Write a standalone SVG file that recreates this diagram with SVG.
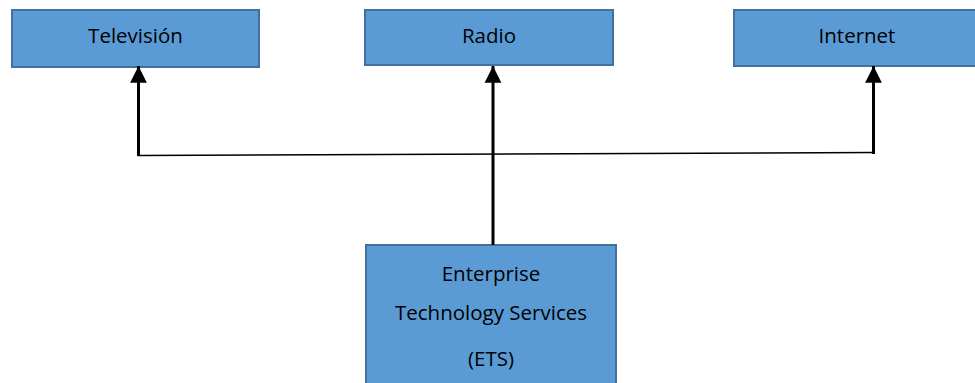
<svg xmlns="http://www.w3.org/2000/svg" width="975" height="383" viewBox="0 0 975 383">
<style>
.box{fill:#5B9BD5;stroke:#41719C;stroke-width:2}
.lbl{font-family:"Open Sans","Liberation Sans",sans-serif;font-size:20.5px;fill:#000;text-anchor:middle}
.conn{stroke:#000;stroke-width:3;fill:none}
.bus{stroke:#000;stroke-width:1.5;fill:none}
</style>
<defs>
<marker id="ah" viewBox="0 0 10 10" refX="10" refY="5" markerWidth="5.6" markerHeight="5.8" orient="auto" markerUnits="strokeWidth">
<path d="M0,0 L10,5 L0,10 Z" fill="#000"/>
</marker>
</defs>
<g id="tv"><rect class="box" x="12" y="10" width="247" height="57"/><text class="lbl" x="135.5" y="43">Televisión</text></g>
<g id="radio"><rect class="box" x="365" y="10" width="248" height="55"/><text class="lbl" x="489" y="43">Radio</text></g>
<g id="internet"><rect class="box" x="734" y="10" width="250" height="56"/><text class="lbl" x="857" y="43">Internet</text></g>
<g id="ets"><rect class="box" x="366" y="245" width="250" height="150"/>
<text class="lbl" x="491" y="281">Enterprise</text>
<text class="lbl" x="491" y="320">Technology Services</text>
<text class="lbl" x="491" y="366">(ETS)</text></g>
<g id="connectors">
<line class="bus" x1="138" y1="155.5" x2="875" y2="152.5"/>
<line class="conn" x1="138.5" y1="156" x2="138.5" y2="66" marker-end="url(#ah)"/>
<line class="conn" x1="873.5" y1="154" x2="873.5" y2="66" marker-end="url(#ah)"/>
<line class="conn" x1="493" y1="245" x2="493" y2="66" marker-end="url(#ah)"/>
</g>
</svg>
